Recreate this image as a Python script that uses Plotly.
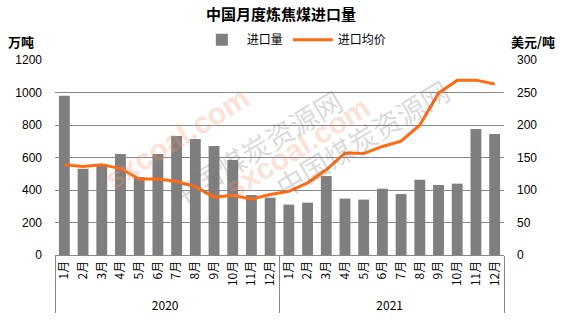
import plotly.graph_objects as go

years = ["2020"] * 12 + ["2021"] * 12
months = [f"{i}月" for i in range(1, 13)] * 2
volume = [980, 531, 560, 621, 480, 621, 732, 714, 671, 585, 369, 353,
          310, 322, 486, 347, 341, 408, 375, 463, 431, 439, 775, 745]
price = [139, 136, 139, 133, 117, 117, 113, 105, 89, 92, 86, 93,
         98, 111, 131, 157, 156, 167, 175, 200, 249, 269, 269, 263]

FONT = "Liberation Sans, Arial, Noto Sans CJK SC"
CJK = "Noto Sans CJK SC, Liberation Sans"

fig = go.Figure()
fig.add_trace(go.Bar(x=[years, months], y=volume, name="进口量",
                     marker=dict(color="#7f7f7f", line=dict(width=0)), yaxis="y"))
fig.add_trace(go.Scatter(x=[years, months], y=price, name="进口均价", mode="lines",
                         line=dict(color="#ff6a13", width=3), yaxis="y2"))

wm_orange = "rgba(245,150,110,0.28)"
wm_gray = "rgba(120,120,120,0.28)"

fig.update_layout(
    width=562, height=324,
    margin=dict(l=55, r=58, t=60, b=69),
    paper_bgcolor="white", plot_bgcolor="white",
    font=dict(family=FONT, size=12, color="#000"),
    bargap=0.42,
    showlegend=True,
    legend=dict(orientation="h", x=0.533, xanchor="center", y=1.03, yanchor="bottom",
                font=dict(family=CJK, size=12), itemwidth=40, bgcolor="rgba(0,0,0,0)"),
    title=dict(text="<b>中国月度炼焦煤进口量</b>", x=0.5, xanchor="center", y=0.955, yanchor="middle",
               font=dict(family=CJK, size=15)),
    xaxis=dict(type="multicategory", tickangle=-90, showline=True, linecolor="#888",
               showdividers=True, dividercolor="#888", dividerwidth=1,
               ticks="", tickfont=dict(family=CJK, size=12), showgrid=False),
    yaxis=dict(range=[0, 1200], dtick=200, showgrid=True, gridcolor="#888", gridwidth=1,
               zeroline=False, ticks="", tickfont=dict(size=12), ticklabelstandoff=12),
    yaxis2=dict(range=[0, 300], dtick=50, overlaying="y", side="right", showgrid=False,
                zeroline=False, ticks="", tickfont=dict(size=12), ticklabelstandoff=12),
    annotations=[
        dict(text="<b>万吨</b>", xref="paper", yref="paper", x=-0.075, y=1.035,
             xanchor="center", yanchor="bottom", showarrow=False, font=dict(family=CJK, size=13)),
        dict(text="<b>美元/吨</b>", xref="paper", yref="paper", x=1.065, y=1.035,
             xanchor="center", yanchor="bottom", showarrow=False, font=dict(family=CJK, size=13)),
        dict(text="<b>sxcoal.com</b>", xref="paper", yref="paper", x=0.09, y=0.6, textangle=-32,
             showarrow=False, font=dict(family=FONT, size=30, color=wm_orange)),
        dict(text="中国煤炭资源网", xref="paper", yref="paper", x=0.23, y=0.55, textangle=-31,
             showarrow=False, font=dict(family=CJK, size=28, color=wm_gray)),
        dict(text="<b>sxcoal.com</b>", xref="paper", yref="paper", x=0.72, y=0.55, textangle=-32,
             showarrow=False, font=dict(family=FONT, size=30, color=wm_orange)),
        dict(text="中国煤炭资源网", xref="paper", yref="paper", x=0.9, y=0.6, textangle=-31,
             showarrow=False, font=dict(family=CJK, size=28, color=wm_gray)),
    ],
)

fig.write_html("out.html")
